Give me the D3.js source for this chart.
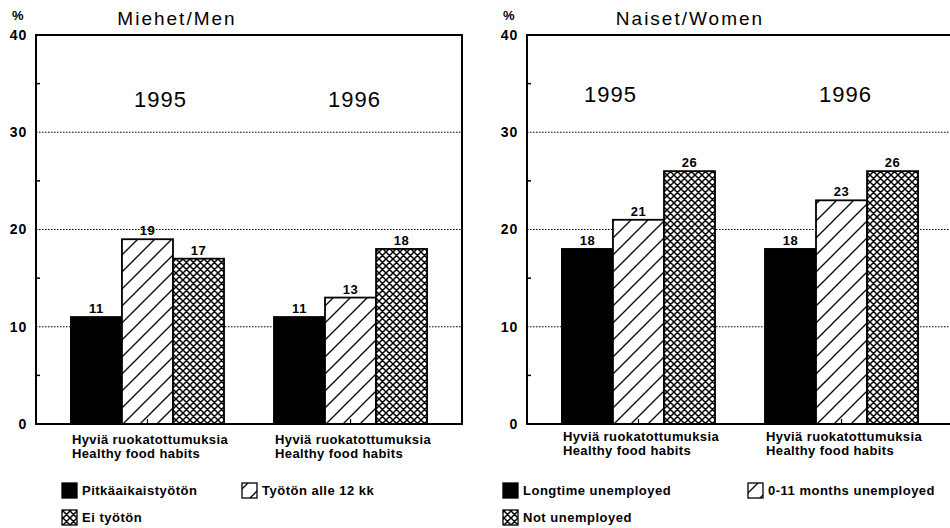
<!DOCTYPE html>
<html><head><meta charset="utf-8">
<script src="https://cdn.jsdelivr.net/npm/d3@7"></script>
<style>
html,body{margin:0;padding:0;background:#fff;}
text{font-family:"Liberation Sans",Arial,Helvetica,sans-serif;fill:#000;}
</style></head>
<body><svg id="c" width="950" height="528"></svg>
<script>
// ---- data ----
const years = ["1995", "1996"];
const seriesKeys = ["long", "short", "not"];
const menValues = [[11, 19, 17], [11, 13, 18]];
const womenValues = [[18, 21, 26], [18, 23, 26]];
const panelTitles = ["Miehet/Men", "Naiset/Women"];
const legendFi = ["Pitkäaikaistyötön", "Työtön alle 12 kk", "Ei työtön"];
const legendEn = ["Longtime unemployed", "0-11 months unemployed", "Not unemployed"];
const categoryLines = ["Hyviä ruokatottumuksia", "Healthy food habits"];
const yTickValues = [0, 10, 20, 30, 40];
const yMinorTicks = [5, 15, 25, 35];

// ---- layout ----
const svg = d3.select("#c");
const defs = svg.append("defs");
const HP = 17;
const hatch = defs.append("pattern").attr("id", "hatch").attr("patternUnits", "userSpaceOnUse")
  .attr("width", HP).attr("height", HP);
hatch.append("rect").attr("width", HP).attr("height", HP).attr("fill", "#fff");
hatch.append("path").attr("d", `M0,${HP}L${HP},0M-3,3L3,-3M${HP-3},${HP+3}L${HP+3},${HP-3}`)
  .attr("stroke", "#000").attr("stroke-width", 1.3);
const cross = defs.append("pattern").attr("id", "cross").attr("patternUnits", "userSpaceOnUse")
  .attr("width", 7).attr("height", 7);
cross.append("rect").attr("width", 7).attr("height", 7).attr("fill", "#fff");
cross.append("path").attr("d", "M0,0L7,7M7,0L0,7M-1,6L1,8M6,-1L8,1M-1,1L1,-1M6,8L8,6")
  .attr("stroke", "#000").attr("stroke-width", 1.5);
const fills = { long: "#000", short: "url(#hatch)", not: "url(#cross)" };

const panels = [
  { x0: 36, title: panelTitles[0], titleX: 177, values: menValues, legend: legendFi,
    yearDx: [13, 4], yearY: 107, catY: [444, 458], legendX: [62, 242, 62] },
  { x0: 527, title: panelTitles[1], titleX: 690, values: womenValues, legend: legendEn,
    yearDx: [-28, 4], yearY: 102, catY: [441, 455], legendX: [503, 748, 503] }
];
const PW = 426, PTOP = 35, PBOTTOM = 424;
const legendY = [490, 517];

const y = d3.scaleLinear().domain([0, 40]).range([PBOTTOM, PTOP]);

panels.forEach(p => {
  const g = svg.append("g").attr("transform", `translate(${p.x0},0)`);
  const x0 = d3.scaleBand().domain(years).range([0, PW]).paddingInner(0.246).paddingOuter(0.172);
  const x1 = d3.scaleBand().domain(seriesKeys).range([0, x0.bandwidth()]);

  // gridlines
  g.selectAll(".grid").data([10, 20, 30]).join("line")
    .attr("x1", 0).attr("x2", PW).attr("y1", d => y(d)).attr("y2", d => y(d))
    .attr("stroke", "#000").attr("stroke-width", 1.2).attr("stroke-dasharray", "1.5,1.5");

  // bars
  years.forEach((yr, i) => {
    const gg = g.append("g").attr("transform", `translate(${x0(yr)},0)`);
    seriesKeys.forEach((k, j) => {
      const v = p.values[i][j];
      gg.append("rect").attr("x", x1(k)).attr("y", y(v)).attr("width", x1.bandwidth())
        .attr("height", y(0) - y(v)).attr("fill", fills[k]).attr("stroke", "#000").attr("stroke-width", 1.8);
      gg.append("text").attr("x", x1(k) + x1.bandwidth() / 2).attr("y", y(v) - 4)
        .attr("text-anchor", "middle").attr("font-size", 13).attr("font-weight", "bold")
        .attr("letter-spacing", 0.5).text(v);
    });
    g.append("text").attr("x", x0(yr) + x0.bandwidth() / 2 + p.yearDx[i]).attr("y", p.yearY)
      .attr("text-anchor", "middle").attr("font-size", 22).attr("letter-spacing", 1).text(yr);
    categoryLines.forEach((t, li) => {
      g.append("text").attr("x", x0(yr) + 1).attr("y", p.catY[li])
        .attr("font-size", 13).attr("font-weight", "bold").attr("letter-spacing", 0.4).text(t);
    });
    g.append("line").attr("x1", x0(yr) + x0.bandwidth() / 2).attr("x2", x0(yr) + x0.bandwidth() / 2)
      .attr("y1", y(0)).attr("y2", y(0) - 5).attr("stroke", "#000").attr("stroke-width", 1.2);
  });

  // frame
  g.append("path").attr("d", `M0,${PBOTTOM}V${PTOP}H${PW}V${PBOTTOM}Z`)
    .attr("fill", "none").attr("stroke", "#000").attr("stroke-width", 2);

  // y axis
  const ax = g.append("g").call(d3.axisLeft(y).tickValues(yTickValues).tickSize(0).tickPadding(9));
  ax.select(".domain").remove();
  ax.selectAll("text").attr("font-size", 14).attr("font-weight", "bold").attr("letter-spacing", 0.8)
    .style("font-family", '"Liberation Sans",Arial,sans-serif');
  g.selectAll(".minor").data(yMinorTicks).join("line")
    .attr("x1", 0).attr("x2", 4).attr("y1", d => y(d)).attr("y2", d => y(d))
    .attr("stroke", "#000").attr("stroke-width", 1.5);

  g.append("text").attr("x", -24).attr("y", 20).attr("font-size", 13).attr("font-weight", "bold").text("%");
  svg.append("text").attr("x", p.titleX).attr("y", 25).attr("text-anchor", "middle")
    .attr("font-size", 19).attr("letter-spacing", 2).text(p.title);

  // legend
  seriesKeys.forEach((k, j) => {
    const lx = p.legendX[j], ly = legendY[j < 2 ? 0 : 1];
    svg.append("rect").attr("x", lx).attr("y", ly - 7).attr("width", 15).attr("height", 15)
      .attr("fill", fills[k]).attr("stroke", "#000").attr("stroke-width", 1.3);
    svg.append("text").attr("x", lx + 20).attr("y", ly + 5).attr("font-size", 13)
      .attr("font-weight", "bold").attr("letter-spacing", 0.5).text(p.legend[j]);
  });
});
</script></body></html>
